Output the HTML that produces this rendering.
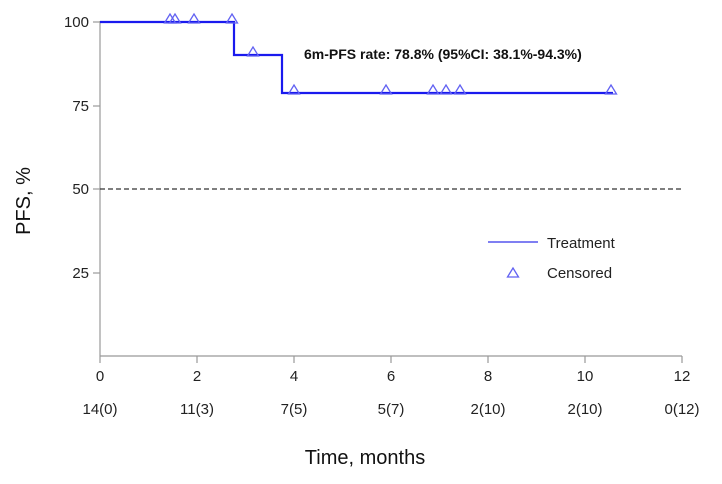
<!DOCTYPE html>
<html><head><meta charset="utf-8"><style>
html,body{margin:0;padding:0;background:#fff;width:722px;height:484px;overflow:hidden}
svg{display:block;font-family:"Liberation Sans",Arial,sans-serif}
</style></head><body>
<svg width="722" height="484" viewBox="0 0 722 484">
<defs><path id="tri" d="M0,-9 L5.5,0 L-5.5,0 Z" fill="none" stroke="#6262f2" stroke-width="1.3"/></defs>
<g stroke="#999" stroke-width="1.2" fill="none">
<line x1="100" y1="21" x2="100" y2="356"/>
<line x1="100" y1="356" x2="682" y2="356"/>
<line x1="93" y1="22" x2="100" y2="22"/>
<line x1="93" y1="106" x2="100" y2="106"/>
<line x1="93" y1="189" x2="100" y2="189"/>
<line x1="93" y1="273" x2="100" y2="273"/>
<line x1="100" y1="356" x2="100" y2="363"/>
<line x1="197" y1="356" x2="197" y2="363"/>
<line x1="294" y1="356" x2="294" y2="363"/>
<line x1="391" y1="356" x2="391" y2="363"/>
<line x1="488" y1="356" x2="488" y2="363"/>
<line x1="585" y1="356" x2="585" y2="363"/>
<line x1="682" y1="356" x2="682" y2="363"/>
</g>
<g font-size="15" fill="#222" text-anchor="end">
<text x="89" y="27">100</text><text x="89" y="111">75</text><text x="89" y="194">50</text><text x="89" y="278">25</text>
</g>
<g font-size="15" fill="#222" text-anchor="middle">
<text x="100" y="381">0</text><text x="197" y="381">2</text><text x="294" y="381">4</text><text x="391" y="381">6</text><text x="488" y="381">8</text><text x="585" y="381">10</text><text x="682" y="381">12</text>
<text x="100" y="414">14(0)</text><text x="197" y="414">11(3)</text><text x="294" y="414">7(5)</text><text x="391" y="414">5(7)</text><text x="488" y="414">2(10)</text><text x="585" y="414">2(10)</text><text x="682" y="414">0(12)</text>
</g>
<text x="365" y="464" font-size="20" fill="#111" text-anchor="middle">Time, months</text>
<text transform="translate(30,201) rotate(-90)" font-size="20" fill="#111" text-anchor="middle">PFS, %</text>
<line x1="100" y1="189" x2="682" y2="189" stroke="#333" stroke-width="1.2" stroke-dasharray="5,3"/>
<polyline points="100,22 234,22 234,55 282,55 282,93 613,93" fill="none" stroke="#1a1aee" stroke-width="2.2"/>
<g>
<use href="#tri" x="170" y="23"/><use href="#tri" x="175" y="23"/><use href="#tri" x="194" y="23"/><use href="#tri" x="232" y="23"/>
<use href="#tri" x="253" y="56"/>
<use href="#tri" x="294" y="94"/><use href="#tri" x="386" y="94"/><use href="#tri" x="433" y="94"/><use href="#tri" x="446" y="94"/><use href="#tri" x="460" y="94"/><use href="#tri" x="611" y="94"/>
</g>
<text x="304" y="59" font-size="14" font-weight="bold" fill="#111">6m-PFS rate: 78.8% (95%CI: 38.1%-94.3%)</text>
<line x1="488" y1="242" x2="538" y2="242" stroke="#5555ee" stroke-width="1.5"/>
<text x="547" y="248" font-size="15" fill="#222">Treatment</text>
<use href="#tri" x="513" y="277"/>
<text x="547" y="278" font-size="15" fill="#222">Censored</text>
</svg>
</body></html>
